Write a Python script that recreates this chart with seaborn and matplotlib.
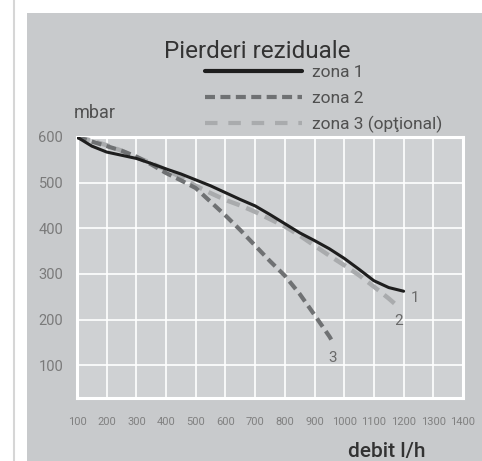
import numpy as np
import matplotlib
matplotlib.use("Agg")
import matplotlib.pyplot as plt
from matplotlib.patches import Rectangle
from matplotlib.lines import Line2D
import seaborn as sns
import pandas as pd

# data (every 50 l/h)
debit_1 = [100, 150, 200, 250, 300, 350, 400, 450, 500, 550, 600, 650, 700, 750,
           800, 850, 900, 950, 1000, 1050, 1100, 1150, 1200]
mbar_1 = [600, 580, 567, 560, 553, 542, 530, 519, 506, 493, 478, 463, 449, 430,
          410, 390, 373, 355, 334, 310, 285, 270, 262]
debit_2 = [100, 150, 200, 250, 300, 350, 400, 450, 500, 550, 600, 650, 700, 750,
           800, 850, 900, 950, 1000, 1050, 1100, 1150, 1175]
mbar_2 = [600, 592, 582, 570, 556, 543, 528, 512, 493, 477, 462, 450, 436, 420,
          404, 384, 362, 340, 319, 297, 272, 246, 232]
debit_3 = [100, 150, 200, 250, 300, 350, 400, 450, 500, 550, 600, 650, 700, 750,
           800, 850, 900, 950, 960]
mbar_3 = [600, 590, 580, 570, 557, 540, 521, 505, 488, 458, 428, 396, 362, 328,
          296, 256, 210, 163, 152]

x_ticks = list(range(100, 1500, 100))
y_ticks = [100, 200, 300, 400, 500, 600]

panel = "#c8cacc"
inner = "#cfd1d3"
txt = "#505050"

sns.set_style("white", {"axes.facecolor": inner})
plt.rcParams["font.family"] = ["Roboto", "DejaVu Sans"]

fig = plt.figure(figsize=(4.82, 4.61), dpi=100)
fig.patch.set_facecolor("white")
fig.patches.append(Rectangle((27 / 482, 0), 1, 1 - 13 / 461, transform=fig.transFigure,
                             facecolor=panel, edgecolor="none", zorder=-5))
fig.lines.append(Line2D([14 / 482, 14 / 482], [0, 1], transform=fig.transFigure,
                        color="#d6d6d6", lw=1.5, zorder=-4))

ax = fig.add_axes([77 / 482, 1 - 398 / 461, (463 - 77) / 482, (398 - 137) / 461])

d1 = pd.DataFrame({"x": debit_1, "y": mbar_1})
d2 = pd.DataFrame({"x": debit_2, "y": mbar_2})
d3 = pd.DataFrame({"x": debit_3, "y": mbar_3})

sns.lineplot(data=d2, x="x", y="y", ax=ax, color="#a9abad", lw=3.2,
             linestyle=(0, (3, 1.6)), zorder=3)
sns.lineplot(data=d3, x="x", y="y", ax=ax, color="#6f7173", lw=3.0,
             linestyle=(0, (2.4, 1.3)), zorder=4)
sns.lineplot(data=d1, x="x", y="y", ax=ax, color="#1e1e1e", lw=2.2, zorder=5)

ax.set_xlim(100, 1400)
ax.set_ylim(28, 600)
ax.set_xticks(x_ticks)
ax.set_yticks(y_ticks)
ax.set_xticklabels([str(v) for v in x_ticks], fontsize=8, color="#808080")
ax.set_yticklabels([str(v) for v in y_ticks], fontsize=10.5, color="#7a7a7a")
ax.tick_params(axis="x", length=0, pad=14)
ax.tick_params(axis="y", length=0, pad=10)
ax.grid(True, color="white", lw=1.2)
for s in ax.spines.values():
    s.set_color("white")
    s.set_linewidth(2.2)
ax.set_xlabel("")
ax.set_ylabel("")

# end labels
ax.text(debit_1[-1] + 25, mbar_1[-1] - 24, "1", fontsize=11, color="#6a6a6a")
ax.text(debit_2[-1] - 5, mbar_2[-1] - 45, "2", fontsize=11, color="#6a6a6a")
ax.text(debit_3[-1] - 12, mbar_3[-1] - 45, "3", fontsize=11, color="#6a6a6a")

fig.text(257 / 482, 1 - 51 / 461, "Pierderi reziduale", fontsize=17.5, color="#333333",
         ha="center", va="center")
fig.text(95 / 482, 1 - 113 / 461, "mbar", fontsize=13, color=txt, ha="center", va="center")
fig.text(387 / 482, 1 - 451 / 461, "debit l/h", fontsize=15, color="#333333",
         ha="center", va="center", fontweight="medium")

handles = [
    Line2D([], [], color="#1e1e1e", lw=3.0),
    Line2D([], [], color="#6f7173", lw=3.0, linestyle=(0, (2.4, 1.3))),
    Line2D([], [], color="#a9abad", lw=3.0, linestyle=(0, (3, 2.6))),
]
fig.legend(handles, ["zona 1", "zona 2", "zona 3 (opţional)"], loc="upper left",
           bbox_to_anchor=(205 / 482, 1 - 65 / 461), frameon=False, fontsize=12.5,
           handlelength=5.6, handletextpad=0.55, labelspacing=0.6, borderpad=0,
           borderaxespad=0, labelcolor=txt)

fig.savefig("out.png", dpi=100)
